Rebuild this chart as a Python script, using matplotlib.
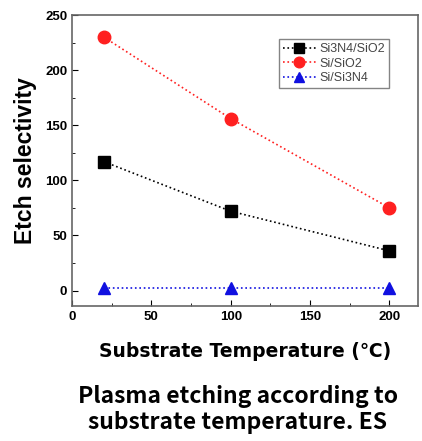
import numpy as np
import matplotlib.pyplot as plt
from matplotlib.ticker import MultipleLocator

temp = [20, 100, 200]
si3n4_sio2 = [117, 72, 36]
si_sio2 = [230, 156, 75]
si_si3n4 = [2, 2, 2]

plt.rcParams['font.family'] = ['Liberation Sans', 'DejaVu Sans']

fig = plt.figure(figsize=(4.22, 4.41), dpi=100)
ax = fig.add_axes([72/422, 1-306/441, (418-72)/422, (306-15)/441])

ax.plot(temp, si3n4_sio2, ':', color='black', marker='s', markersize=8, lw=1.2, label='Si3N4/SiO2')
ax.plot(temp, si_sio2, ':', color='#ff2020', marker='o', markersize=9, lw=1.2, label='Si/SiO2')
ax.plot(temp, si_si3n4, ':', color='#1010e0', marker='^', markersize=9, lw=1.2, label='Si/Si3N4')

ax.set_xlim(0, 218)
ax.set_ylim(-14, 250)
ax.xaxis.set_major_locator(MultipleLocator(50))
ax.yaxis.set_major_locator(MultipleLocator(50))
ax.xaxis.set_minor_locator(MultipleLocator(25))
ax.yaxis.set_minor_locator(MultipleLocator(25))
ax.tick_params(which='both', direction='in', labelsize=9.5)
ax.tick_params(which='major', length=4)
ax.tick_params(which='minor', length=2)
for lab in ax.get_xticklabels() + ax.get_yticklabels():
    lab.set_fontweight('bold')
for s in ax.spines.values():
    s.set_color('#666666')
    s.set_linewidth(1.2)

ax.set_ylabel('Etch selectivity', fontsize=16.5, fontweight='bold', labelpad=6)
ax.set_xlabel('Substrate Temperature (\u2103)', fontsize=13.5, fontweight='bold', labelpad=14,
              family=['DejaVu Sans'])

leg = ax.legend(loc='upper right', bbox_to_anchor=(0.935, 0.94), fontsize=9, frameon=True,
                fancybox=False, edgecolor='#666666', handlelength=2.6, borderpad=0.35,
                labelspacing=0.2, handletextpad=0.3, markerscale=0.85)
for t in leg.get_texts():
    t.set_color('#444444')

fig.text(0.563, 0.10, 'Plasma etching according to', ha='center', va='center',
         fontsize=16.5, fontweight='bold', family=['Noto Sans CJK KR', 'DejaVu Sans'])
fig.text(0.563, 0.043, 'substrate temperature. ES', ha='center', va='center',
         fontsize=16.5, fontweight='bold', family=['Noto Sans CJK KR', 'DejaVu Sans'])

fig.savefig('out.png', dpi=100)
